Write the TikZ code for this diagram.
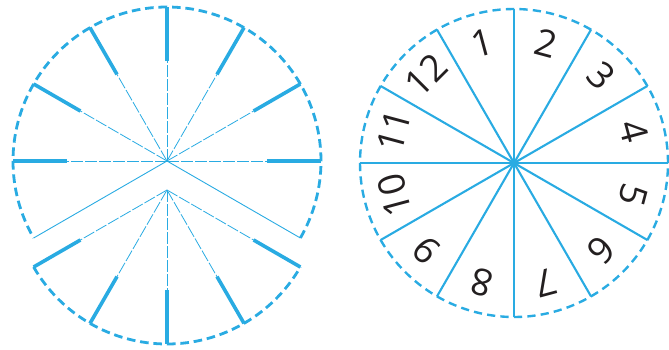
\documentclass[tikz,border=0pt]{standalone}
\usepackage{fontspec}
\setmainfont{Open Sans}
\usetikzlibrary{calc}
\definecolor{cy}{HTML}{29ABE2}
\definecolor{ink}{HTML}{231F20}
\tikzset{
  rim/.style={draw=cy, line width=2.8pt, dash pattern=on 8.6pt off 4.8pt},
  rimr/.style={draw=cy, line width=2.4pt, dash pattern=on 8.2pt off 5.2pt},
  thickspoke/.style={draw=cy, line width=3.6pt},
  innerspoke/.style={draw=cy, line width=0.8pt, dash pattern=on 12pt off 2pt},
  edgeline/.style={draw=cy, line width=0.9pt},
  spoke/.style={draw=cy, line width=2.1pt},
  num/.style={text=ink, font=\fontsize{37}{37}\selectfont, inner sep=0pt, anchor=center}
}
\begin{document}
\begin{tikzpicture}[x=1pt,y=1pt]
\useasboundingbox (0,-349) rectangle (669,0);
\coordinate (L1) at (167,-161);
\coordinate (L2) at (167,-190);
\coordinate (R) at (514,-163);
% ---- left: top piece (sector -30 .. 210)
\foreach \a in {-30,0,...,180}{
  \draw[rim] ($(L1)+(\a:154)$) arc[start angle=\a, delta angle=30, radius=154];
}
\foreach \a in {0,30,...,180}{
  \draw[innerspoke] (L1) -- ($(L1)+(\a:100)$);
  \draw[thickspoke] ($(L1)+(\a:100)$) -- ($(L1)+(\a:154)$);
}
\coordinate (E1) at ($(L1)+(210:154)$);
\coordinate (E2) at ($(L1)+(330:154)$);
\draw[edgeline] (L1) -- (E1);
\draw[edgeline] (L1) -- (E2);
% ---- left: bottom piece (sector 210 .. 330)
\foreach \a in {210,240,270,300}{
  \draw[rim] ($(L2)+(\a:154)$) arc[start angle=\a, delta angle=30, radius=154];
}
\foreach \a in {210,240,...,330}{
  \draw[innerspoke] (L2) -- ($(L2)+(\a:100)$);
  \draw[thickspoke] ($(L2)+(\a:100)$) -- ($(L2)+(\a:154)$);
}
% ---- right wheel
\foreach \a in {0,30,...,330}{
  \draw[rimr] ($(R)+(\a:154)$) arc[start angle=\a, delta angle=30, radius=154];
  \draw[spoke] (R) -- ($(R)+(\a:154)$);
}
\foreach \n/\a in {1/105,2/75,3/45,4/15,5/-15,6/-45,7/-75,8/-105,9/-135,10/-165,11/165,12/135}{
  \node[num, rotate=\a-90] (n\n) at ($(R)+(\a:124)$) {\n};
}
\end{tikzpicture}
\end{document}
